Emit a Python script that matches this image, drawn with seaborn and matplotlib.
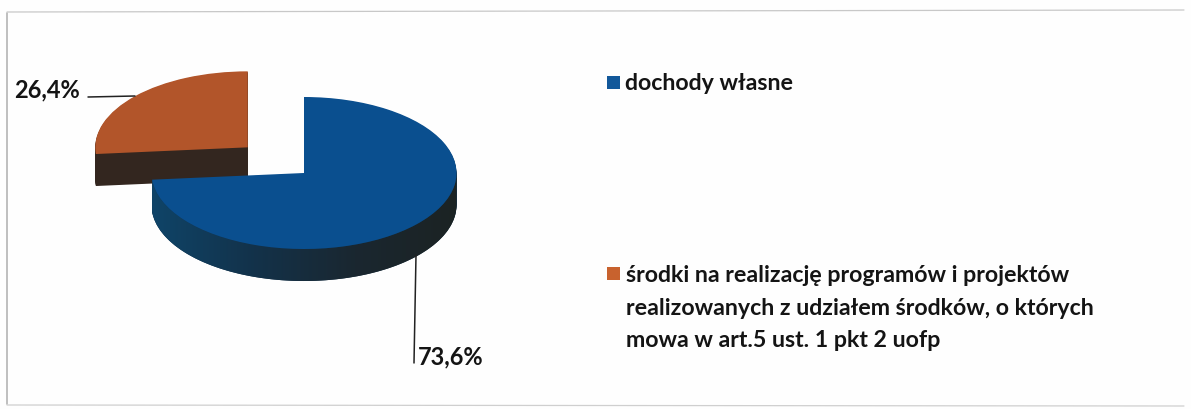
import numpy as np
import matplotlib
matplotlib.use("Agg")
import matplotlib.pyplot as plt
import seaborn as sns
from matplotlib.lines import Line2D
from matplotlib.patches import Rectangle, Polygon
from matplotlib.colors import LinearSegmentedColormap

sns.set_theme(style="white")
plt.rcParams['font.family'] = ['Lato', 'DejaVu Sans']

categories = ["dochody własne",
              "środki na realizację programów i projektów\nrealizowanych z udziałem środków, o których\nmowa w art.5 ust. 1 pkt 2 uofp"]
values = [73.6, 26.4]
value_labels = ["73,6%", "26,4%"]
top_colors = ["#0a4f8f", "#b2552a"]
side_colors = ["#14324a", "#33261f"]
legend_colors = ["#12589a", "#c8622e"]

W, H = 1191, 410
CX, CY, RX, RY = 304.0, 174.0, 152.5, 76.0
DEPTH = 32 / RY
EXPLODE = [0.0, 0.5]

fig = plt.figure(figsize=(W / 100, H / 100), dpi=100, facecolor="#fefefe")
ax = fig.add_axes([0, 0, 1, 1])
ax.set_facecolor("none")
xlim = (-CX / RX, (W - CX) / RX)
ylim = ((CY - H) / RY, CY / RY)


def fx(x):
    return x / W


def fy(y):
    return 1 - y / H


# exploded slice: extrusion, then top
for d in np.linspace(DEPTH, 0.01, 40):
    ax.pie(values, startangle=90, counterclock=False, explode=EXPLODE, center=(0, -d),
           colors=["none", side_colors[1]], wedgeprops=dict(linewidth=0.6, edgecolor="none"))
w, _ = ax.pie(values, startangle=90, counterclock=False, explode=EXPLODE,
              colors=["none", top_colors[1]], wedgeprops=dict(linewidth=0))

# main slice: extrusion with a shaded rim, then top
for d in np.linspace(DEPTH, 0.01, 40):
    ax.pie(values, startangle=90, counterclock=False, center=(0, -d),
           colors=[side_colors[0], "none"], wedgeprops=dict(linewidth=0.6, edgecolor="none"))
t = np.radians(np.linspace(185, 360, 200))
rim = np.column_stack([np.r_[np.cos(t), np.cos(t[::-1])],
                       np.r_[np.sin(t), np.sin(t[::-1]) - DEPTH]])
clip = Polygon(rim, closed=True, transform=ax.transData, facecolor="none", edgecolor="none")
ax.add_patch(clip)
cmap = LinearSegmentedColormap.from_list("rim", ["#0f4468", "#13324a", "#1a2730", "#1c2323"])
img = ax.imshow(np.linspace(0, 1, 256)[None, :], extent=(-1, 1, -2, 0.5), cmap=cmap,
                aspect="auto", zorder=1)
img.set_clip_path(clip)
ax.pie(values, startangle=90, counterclock=False,
       colors=[top_colors[0], "none"], wedgeprops=dict(linewidth=0, zorder=2))

ax.set_aspect("auto")
ax.set_xlim(*xlim)
ax.set_ylim(*ylim)
ax.axis("off")

# leader lines and value labels
fig.add_artist(Line2D([fx(88), fx(135)], [fy(98), fy(97)], color="#222222", lw=1.1))
fig.add_artist(Line2D([fx(416), fx(414)], [fy(256), fy(364)], color="#222222", lw=1.1))
txt = dict(color="#141414", fontweight="bold", va="baseline", ha="left")
fig.text(fx(14), fy(97), value_labels[1], fontsize=17, **txt)
fig.text(fx(418), fy(364), value_labels[0], fontsize=17, **txt)

# legend
fig.add_artist(Rectangle((fx(607), fy(90)), 13 / W, 13 / H, transform=fig.transFigure,
                         facecolor=legend_colors[0], edgecolor="none"))
fig.add_artist(Rectangle((fx(607), fy(281)), 13 / W, 13 / H, transform=fig.transFigure,
                         facecolor=legend_colors[1], edgecolor="none"))
fig.text(fx(625), fy(90), categories[0], fontsize=16.7, **txt)
for line, base in zip(categories[1].split("\n"), [282, 315, 347]):
    fig.text(fx(626), fy(base), line, fontsize=16.7, **txt)

# scanned frame
frame = "#b4b4b4"
fig.add_artist(Line2D([fx(7), fx(7)], [fy(14), fy(405)], color=frame, lw=1.2))
fig.add_artist(Line2D([fx(7), fx(1184)], [fy(13), fy(11)], color="#c8c8c8", lw=0.9))
fig.add_artist(Line2D([fx(7), fx(1184)], [fy(406), fy(407)], color="#cfcfcf", lw=0.9))

fig.savefig("out.png", dpi=100, facecolor=fig.get_facecolor())
